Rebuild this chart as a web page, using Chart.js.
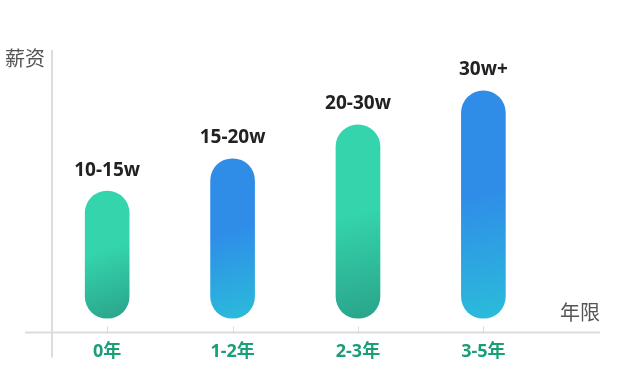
<!DOCTYPE html>
<html>
<head>
<meta charset="utf-8">
<script src="https://cdn.jsdelivr.net/npm/chart.js@4/dist/chart.umd.min.js"></script>
<style>
  html, body { margin: 0; padding: 0; background: #fff; }
</style>
</head>
<body>
<canvas id="chart" width="623" height="386"></canvas>
<script>
// data (bar heights in arbitrary "level" units)
var years = ['0年', '1-2年', '2-3年', '3-5年'];
var salaryLabels = ['10-15w', '15-20w', '20-30w', '30w+'];
var barBase = [1, 1, 1, 1];
var barTop = [10, 12.3, 14.7, 17.1];

// green / blue alternate
var gradTop = ['#34d5ad', '#2f8de8', '#34d5ad', '#2f8de8'];
var gradBottom = ['#2aa38a', '#2bbcda', '#2aa38a', '#2bbcda'];

var FONT = '"Open Sans", "Noto Sans CJK SC", sans-serif';

function barFill(ctx) {
    var chart = ctx.chart;
    if (!chart.chartArea || ctx.type !== 'data') {
        return gradTop[ctx.dataIndex || 0];
    }
    var i = ctx.dataIndex;
    var xs = chart.scales.x;
    var ys = chart.scales.y;
    var cx = xs.getPixelForValue(i);
    var top = ys.getPixelForValue(barTop[i]);
    var bottom = ys.getPixelForValue(barBase[i]);
    var g = chart.ctx.createLinearGradient(cx - 22, top, cx + 22, bottom);
    g.addColorStop(0, gradTop[i]);
    g.addColorStop(0.45, gradTop[i]);
    g.addColorStop(1, gradBottom[i]);
    return g;
}

var axisPlugin = {
    id: 'axisLines',
    beforeDatasetsDraw: function(chart) {
        var c = chart.ctx;
        var a = chart.chartArea;
        var xs = chart.scales.x;
        c.save();
        c.strokeStyle = '#dcdcdc';
        c.lineWidth = 2;
        // x axis, runs a bit past the y axis
        c.beginPath();
        c.moveTo(a.left - 27, a.bottom);
        c.lineTo(a.right, a.bottom);
        c.stroke();
        // y axis, runs a bit below the x axis
        c.beginPath();
        c.moveTo(a.left, a.top);
        c.lineTo(a.left, a.bottom + 25);
        c.stroke();
        // small tick marks above the axis
        c.lineWidth = 1;
        for (var i = 0; i < years.length; i++) {
            var x = Math.round(xs.getPixelForValue(i)) + 0.5;
            c.beginPath();
            c.moveTo(x, a.bottom - 6);
            c.lineTo(x, a.bottom);
            c.stroke();
        }
        c.restore();
    },
    afterDatasetsDraw: function(chart) {
        var c = chart.ctx;
        var a = chart.chartArea;
        var meta = chart.getDatasetMeta(0);
        c.save();
        c.textAlign = 'center';
        c.textBaseline = 'middle';
        c.fillStyle = '#222';
        c.font = 'bold 19px ' + FONT;
        meta.data.forEach(function(bar, i) {
            c.fillText(salaryLabels[i], bar.x, bar.y - 21);
        });
        c.fillStyle = '#555';
        c.font = '20px ' + FONT;
        c.textAlign = 'left';
        c.fillText('薪资', 5, a.top + 10);
        c.textAlign = 'right';
        c.fillText('年限', a.right, a.bottom - 18);
        c.restore();
    }
};

var rows = years.map(function(y, i) {
    return { x: i, y: [barBase[i], barTop[i]] };
});

new Chart(document.getElementById('chart').getContext('2d'), {
    type: 'bar',
    data: {
        datasets: [{
            data: rows,
            backgroundColor: barFill,
            borderWidth: 0,
            borderRadius: 22,
            borderSkipped: false,
            barThickness: 44
        }]
    },
    options: {
        responsive: false,
        animation: false,
        layout: { padding: { left: 52, right: 23, top: 50, bottom: 14 } },
        plugins: {
            legend: { display: false },
            tooltip: { enabled: false }
        },
        scales: {
            x: {
                type: 'linear',
                offset: false,
                min: -0.44,
                max: 3.93,
                grid: { display: false, drawTicks: false },
                border: { display: false },
                afterBuildTicks: function(scale) {
                    scale.ticks = years.map(function(y, i) { return { value: i }; });
                },
                ticks: {
                    autoSkip: false,
                    maxRotation: 0,
                    padding: 9,
                    color: '#1a9e78',
                    font: { family: FONT, size: 18, weight: 'bold' },
                    callback: function(value) { return years[value]; }
                }
            },
            y: {
                display: false,
                min: 0,
                max: 20
            }
        }
    },
    plugins: [axisPlugin]
});
</script>
</body>
</html>
